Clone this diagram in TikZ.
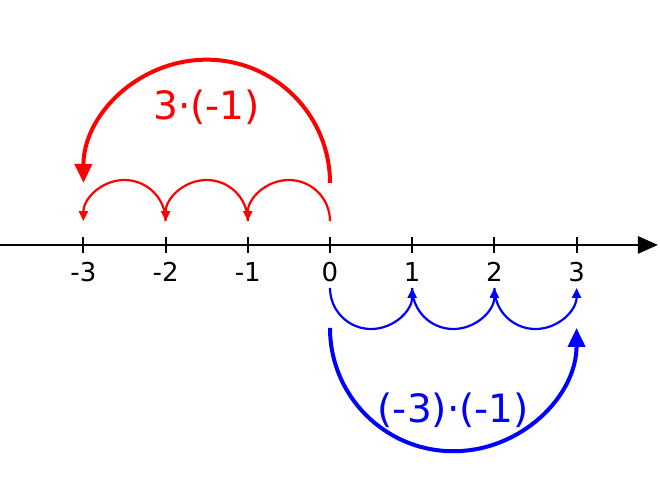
\documentclass[tikz,border=0pt]{standalone}
\usepackage{fontspec}
\setmainfont{DejaVu Sans}
\usetikzlibrary{arrows.meta}
\begin{document}
\begin{tikzpicture}[x=82.2pt, y=82.2pt, >={Triangle[length=10pt,width=9pt]},
    tick/.style={line width=2pt},
    ticklabel/.style={font=\fontsize{26}{30}\selectfont},
    steplabel/.style={font=\fontsize{39}{46}\selectfont},
    jump/.style={line width=2.2pt, ->},
    bigjump/.style={line width=4pt, -{Triangle[length=19pt,width=17pt]}}]
    \useasboundingbox (-4.015,-3.041) rectangle (4.015,2.98);
    % number line
    \coordinate (left) at (-4.015,0);
    \coordinate (right) at (3.99,0);
    \draw[line width=2.8pt, -{Triangle[length=20pt,width=17pt]}] (left) -- (right);
    \foreach \i in {-3,...,3} {
        \coordinate (t\i) at (\i,0);
        \draw[tick] (\i,0.095) -- (\i,-0.095);
        \node[ticklabel] (n\i) at (\i,-0.33) {\i};
    }
    % 3*(-1)
    \foreach \i in {0,-1,-2} {
        \coordinate (r\i) at (\i,0.29);
        \draw[jump,red] (r\i) arc[start angle=0, end angle=180, radius=0.5];
    }
    \coordinate (R) at (0,0.754);
    \draw[bigjump,red] (R) arc[start angle=0, end angle=180, radius=1.5];
    \node[steplabel,red] (redlabel) at (-1.5,1.68) {3·(-1)};
    % (-3)*(-1)
    \foreach \i in {0,1,2} {
        \coordinate (b\i) at (\i,-0.523);
        \draw[jump,blue] (b\i) arc[start angle=180, end angle=360, radius=0.5];
    }
    \coordinate (B) at (0,-1.01);
    \draw[bigjump,blue] (B) arc[start angle=180, end angle=360, radius=1.5];
    \node[steplabel,blue] (bluelabel) at (1.5,-2.01) {(-3)·(-1)};
\end{tikzpicture}
\end{document}
